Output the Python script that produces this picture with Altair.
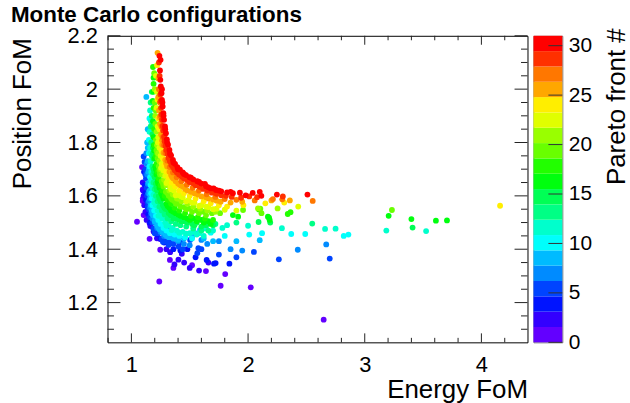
import colorsys
import altair as alt
import pandas as pd

# ---------------- data: (Energy FoM, Position FoM) per Pareto front ----------------
front_0 = [(1.048, 1.503), (1.239, 1.279), (1.639, 1.318), (1.804, 1.307), (1.765, 1.263),
           (2.023, 1.257), (2.648, 1.136)]
front_1 = [(1.091, 1.708), (1.097, 1.624), (1.098, 1.590), (1.097, 1.581), (1.105, 1.528),
           (1.156, 1.439), (1.247, 1.398), (1.330, 1.360), (1.360, 1.330), (1.520, 1.340)]
front_2 = [(1.097, 1.650), (1.432, 1.383), (1.452, 1.350), (1.500, 1.330), (1.580, 1.320),
           (1.660, 1.350), (1.300, 1.400)]
front_3 = [(1.100, 1.620), (1.105, 1.600), (1.110, 1.565), (1.120, 1.540), (1.130, 1.510),
           (1.156, 1.497), (1.162, 1.487), (1.190, 1.466), (1.219, 1.441), (1.247, 1.438),
           (1.332, 1.389), (1.369, 1.343), (1.403, 1.361)]
front_4 = [(1.108, 1.690), (1.115, 1.640), (1.120, 1.610), (1.125, 1.585), (1.135, 1.560),
           (1.145, 1.530), (1.160, 1.500), (1.190, 1.475), (1.220, 1.455), (1.250, 1.440),
           (1.280, 1.425), (1.360, 1.400), (1.420, 1.395), (1.480, 1.400), (1.550, 1.370),
           (1.645, 1.360), (1.708, 1.346), (1.722, 1.348), (1.840, 1.346)]
front_5 = [(1.120, 1.680), (1.142, 1.560), (1.190, 1.478), (1.270, 1.428), (1.750, 1.380),
           (1.900, 1.370), (2.050, 1.390), (2.264, 1.362), (2.700, 1.365), (1.200, 1.460),
           (1.330, 1.430), (1.420, 1.425)]
front_6 = [(1.105, 1.748), (1.113, 1.727), (1.120, 1.700), (1.125, 1.665), (1.130, 1.630),
           (1.135, 1.600), (1.140, 1.575), (1.150, 1.550), (1.160, 1.520), (1.180, 1.500),
           (1.200, 1.470), (1.230, 1.460), (1.260, 1.440), (1.300, 1.430), (1.318, 1.416),
           (1.360, 1.420), (1.403, 1.410), (1.440, 1.400), (1.503, 1.435), (1.565, 1.385),
           (1.574, 1.404), (1.600, 1.400)]
front_7 = [(1.128, 1.760), (1.130, 1.720), (1.135, 1.680), (1.140, 1.645), (1.145, 1.610),
           (1.150, 1.580), (1.160, 1.555), (1.170, 1.535), (1.180, 1.515), (1.200, 1.500),
           (1.220, 1.480), (1.250, 1.465), (1.280, 1.450), (1.318, 1.472), (1.347, 1.460),
           (1.400, 1.430), (1.450, 1.420), (1.500, 1.415), (1.600, 1.435), (1.650, 1.420),
           (1.750, 1.430), (1.850, 1.400), (1.950, 1.395), (2.426, 1.398), (2.670, 1.418)]
front_8 = [(1.135, 1.800), (1.150, 1.700), (1.158, 1.605), (1.182, 1.530), (1.230, 1.482),
           (1.300, 1.452), (1.450, 1.440), (1.620, 1.440), (1.900, 1.430), (1.340, 1.445),
           (1.400, 1.445), (1.520, 1.445)]
front_9 = [(1.128, 1.971), (1.140, 1.850), (1.140, 1.780), (1.140, 1.730), (1.145, 1.690),
           (1.150, 1.650), (1.155, 1.620), (1.160, 1.590), (1.165, 1.565), (1.175, 1.545),
           (1.190, 1.525), (1.200, 1.505), (1.220, 1.490), (1.240, 1.475), (1.265, 1.465),
           (1.290, 1.455), (1.320, 1.445), (1.360, 1.440), (1.400, 1.435), (1.546, 1.460),
           (1.588, 1.472), (1.700, 1.430), (2.100, 1.434)]
front_10 = [(1.155, 1.890), (1.150, 1.810), (1.150, 1.760), (1.155, 1.710), (1.160, 1.670),
            (1.165, 1.640), (1.170, 1.610), (1.175, 1.590), (1.180, 1.565), (1.195, 1.545),
            (1.210, 1.525), (1.230, 1.510), (1.250, 1.495), (1.275, 1.480), (1.300, 1.470),
            (1.330, 1.460), (1.370, 1.455), (1.410, 1.450), (1.460, 1.445), (1.520, 1.440),
            (1.800, 1.450), (2.010, 1.455), (2.120, 1.460), (2.370, 1.457), (2.490, 1.457),
            (2.820, 1.450), (2.860, 1.455), (1.680, 1.462)]
front_11 = [(1.168, 1.880), (1.162, 1.760), (1.176, 1.650), (1.196, 1.575), (1.232, 1.525),
            (1.300, 1.488), (1.410, 1.462), (1.640, 1.478), (1.820, 1.490), (2.000, 1.488),
            (1.345, 1.472), (1.470, 1.458), (1.530, 1.465), (1.580, 1.460)]
front_12 = [(1.160, 1.920), (1.155, 1.840), (1.160, 1.780), (1.165, 1.730), (1.170, 1.690),
            (1.170, 1.660), (1.180, 1.630), (1.190, 1.605), (1.200, 1.585), (1.210, 1.565),
            (1.225, 1.545), (1.245, 1.530), (1.265, 1.515), (1.290, 1.500), (1.320, 1.490),
            (1.355, 1.480), (1.390, 1.470), (1.440, 1.465), (1.500, 1.460), (1.560, 1.455),
            (1.620, 1.450), (1.700, 1.470), (1.780, 1.480), (2.290, 1.479), (2.660, 1.476),
            (2.750, 1.477), (3.185, 1.470), (3.526, 1.468)]
front_13 = [(1.165, 1.950), (1.165, 1.860), (1.170, 1.800), (1.175, 1.750), (1.180, 1.710),
            (1.185, 1.680), (1.190, 1.650), (1.200, 1.625), (1.210, 1.600), (1.225, 1.580),
            (1.240, 1.560), (1.260, 1.545), (1.285, 1.530), (1.310, 1.515), (1.340, 1.505),
            (1.380, 1.495), (1.420, 1.490), (1.470, 1.485), (1.530, 1.478), (1.600, 1.470),
            (1.660, 1.470), (1.720, 1.495), (1.900, 1.500), (2.550, 1.496)]
front_14 = [(1.178, 1.860), (1.186, 1.760), (1.196, 1.690), (1.214, 1.632), (1.240, 1.590),
            (1.282, 1.555), (1.335, 1.528), (1.410, 1.510), (1.520, 1.495), (1.700, 1.490),
            (2.090, 1.502), (1.360, 1.515), (1.450, 1.505), (1.560, 1.500), (1.640, 1.490)]
front_15 = [(1.175, 1.990), (1.175, 1.900), (1.180, 1.830), (1.185, 1.780), (1.190, 1.740),
            (1.190, 1.700), (1.200, 1.670), (1.210, 1.645), (1.220, 1.620), (1.235, 1.600),
            (1.250, 1.580), (1.270, 1.565), (1.295, 1.550), (1.320, 1.535), (1.350, 1.525),
            (1.390, 1.515), (1.430, 1.505), (1.480, 1.500), (1.540, 1.490), (1.600, 1.485),
            (2.190, 1.500), (3.410, 1.481)]
front_16 = [(1.188, 1.990), (1.192, 1.790), (1.210, 1.700), (1.230, 1.645), (1.265, 1.600),
            (1.310, 1.562), (1.380, 1.535), (1.480, 1.515), (1.600, 1.510), (1.870, 1.528),
            (1.915, 1.522), (2.170, 1.522), (1.340, 1.545), (1.420, 1.525), (1.530, 1.515),
            (1.660, 1.505)]
front_17 = [(1.190, 2.043), (1.183, 1.956), (1.185, 1.880), (1.190, 1.820), (1.195, 1.770),
            (1.200, 1.740), (1.205, 1.710), (1.215, 1.680), (1.225, 1.655), (1.240, 1.630),
            (1.255, 1.610), (1.275, 1.590), (1.300, 1.570), (1.325, 1.555), (1.360, 1.540),
            (1.400, 1.530), (1.450, 1.520), (1.500, 1.510), (1.560, 1.505), (1.620, 1.500),
            (1.680, 1.495), (2.180, 1.518), (2.185, 1.510), (3.205, 1.525), (3.400, 1.513),
            (3.610, 1.507), (3.705, 1.508)]
front_18 = [(1.185, 2.083), (1.190, 2.020), (1.190, 1.930), (1.195, 1.850), (1.200, 1.790),
            (1.210, 1.750), (1.215, 1.720), (1.225, 1.690), (1.235, 1.665), (1.250, 1.640),
            (1.265, 1.620), (1.285, 1.600), (1.310, 1.585), (1.340, 1.570), (1.370, 1.555),
            (1.410, 1.545), (1.460, 1.535), (1.510, 1.525), (1.570, 1.520), (1.630, 1.515),
            (1.700, 1.510), (2.340, 1.532), (2.364, 1.539), (2.094, 1.549)]
front_19 = [(1.208, 1.920), (1.222, 1.760), (1.240, 1.695), (1.270, 1.645), (1.310, 1.610),
            (1.370, 1.580), (1.450, 1.558), (1.560, 1.545), (1.760, 1.535), (1.957, 1.547),
            (1.340, 1.590), (1.410, 1.570), (1.500, 1.552), (1.620, 1.540), (1.690, 1.535)]
front_20 = [(1.195, 2.060), (1.200, 1.950), (1.205, 1.870), (1.210, 1.810), (1.215, 1.770),
            (1.225, 1.740), (1.235, 1.710), (1.245, 1.680), (1.260, 1.655), (1.275, 1.635),
            (1.295, 1.615), (1.320, 1.600), (1.350, 1.585), (1.385, 1.570), (1.420, 1.560),
            (1.470, 1.550), (1.520, 1.540), (1.580, 1.535), (1.640, 1.528), (2.105, 1.552),
            (2.115, 1.535), (3.233, 1.547)]
front_21 = [(1.200, 2.000), (1.205, 1.900), (1.215, 1.840), (1.220, 1.790), (1.230, 1.760),
            (1.240, 1.730), (1.250, 1.700), (1.265, 1.680), (1.280, 1.660), (1.300, 1.640),
            (1.325, 1.620), (1.355, 1.605), (1.390, 1.590), (1.430, 1.580), (1.480, 1.570),
            (1.530, 1.560), (1.590, 1.552), (1.650, 1.545), (1.720, 1.540), (2.085, 1.553),
            (2.253, 1.553)]
front_22 = [(1.218, 1.990), (1.228, 1.800), (1.255, 1.705), (1.300, 1.648), (1.380, 1.602),
            (1.470, 1.580), (1.580, 1.562), (1.700, 1.550), (1.900, 1.545), (1.340, 1.625),
            (1.420, 1.600), (1.520, 1.575), (1.640, 1.560)]
front_23 = [(1.210, 2.050), (1.215, 1.930), (1.225, 1.860), (1.230, 1.820), (1.240, 1.780),
            (1.250, 1.750), (1.260, 1.720), (1.275, 1.695), (1.290, 1.675), (1.310, 1.655),
            (1.335, 1.635), (1.365, 1.620), (1.400, 1.605), (1.440, 1.595), (1.490, 1.585),
            (1.540, 1.575), (1.600, 1.565), (1.660, 1.558), (1.730, 1.552), (1.800, 1.548),
            (2.430, 1.560)]
front_24 = [(1.220, 2.090), (1.224, 1.960), (1.230, 1.890), (1.240, 1.850), (1.250, 1.800),
            (1.258, 1.770), (1.270, 1.740), (1.284, 1.715), (1.300, 1.690), (1.320, 1.670),
            (1.345, 1.650), (1.375, 1.635), (1.410, 1.620), (1.450, 1.610), (1.500, 1.600),
            (1.550, 1.590), (1.620, 1.580), (1.680, 1.572), (1.750, 1.565), (1.820, 1.560),
            (2.148, 1.572), (2.310, 1.575), (4.160, 1.563), (1.960, 1.565)]
front_25 = [(1.232, 2.040), (1.242, 1.895), (1.262, 1.808), (1.298, 1.722), (1.340, 1.678),
            (1.400, 1.646), (1.480, 1.620), (1.600, 1.598), (1.730, 1.582), (1.950, 1.578),
            (1.360, 1.665), (1.440, 1.635), (1.540, 1.610), (1.660, 1.590)]
front_26 = [(1.224, 2.136), (1.230, 1.970), (1.236, 1.920), (1.245, 1.870), (1.254, 1.830),
            (1.264, 1.792), (1.275, 1.762), (1.290, 1.735), (1.306, 1.710), (1.326, 1.690),
            (1.350, 1.670), (1.380, 1.655), (1.418, 1.640), (1.460, 1.626), (1.510, 1.615),
            (1.570, 1.605), (1.640, 1.595), (1.700, 1.586), (1.765, 1.578), (1.850, 1.575),
            (2.200, 1.583), (2.358, 1.583)]
front_27 = [(1.236, 2.000), (1.244, 1.950), (1.250, 1.900), (1.258, 1.860), (1.268, 1.820),
            (1.278, 1.790), (1.292, 1.760), (1.308, 1.732), (1.328, 1.708), (1.356, 1.688),
            (1.388, 1.670), (1.428, 1.655), (1.475, 1.642), (1.525, 1.630), (1.578, 1.620),
            (1.645, 1.606), (1.720, 1.596), (1.800, 1.588), (1.900, 1.585), (2.057, 1.583),
            (2.213, 1.588), (2.293, 1.587), (2.554, 1.581)]
front_28 = [(1.250, 1.955), (1.258, 1.905), (1.268, 1.862), (1.280, 1.822), (1.292, 1.788),
            (1.310, 1.757), (1.330, 1.730), (1.358, 1.706), (1.390, 1.688), (1.430, 1.673),
            (1.475, 1.660), (1.525, 1.648), (1.585, 1.634), (1.650, 1.620), (1.730, 1.608),
            (1.810, 1.600), (2.010, 1.598)]
front_29 = [(1.236, 2.100), (1.242, 2.050), (1.248, 1.980), (1.254, 1.930), (1.262, 1.885),
            (1.272, 1.845), (1.284, 1.805), (1.298, 1.772), (1.318, 1.742), (1.342, 1.716),
            (1.372, 1.696), (1.408, 1.680), (1.450, 1.666), (1.498, 1.652), (1.550, 1.640),
            (1.615, 1.626), (1.690, 1.612), (1.770, 1.602), (1.860, 1.596), (1.940, 1.593),
            (2.077, 1.595), (2.298, 1.598)]
front_30 = [(1.262, 2.000), (1.266, 1.950), (1.276, 1.900), (1.290, 1.850), (1.306, 1.800),
            (1.330, 1.758), (1.360, 1.725), (1.400, 1.700), (1.450, 1.682), (1.510, 1.668),
            (1.580, 1.652), (1.660, 1.632), (1.750, 1.620), (1.850, 1.615), (1.980, 1.602),
            (2.114, 1.600), (1.630, 1.645), (1.705, 1.628)]
front_31 = [(1.240, 2.125), (1.250, 2.110), (1.245, 2.070), (1.248, 2.035), (1.252, 2.010),
            (1.258, 1.985), (1.262, 1.960), (1.268, 1.935), (1.274, 1.910), (1.280, 1.885),
            (1.288, 1.860), (1.296, 1.835), (1.304, 1.812), (1.314, 1.792), (1.326, 1.772),
            (1.340, 1.752), (1.356, 1.735), (1.374, 1.720), (1.394, 1.708), (1.416, 1.698),
            (1.440, 1.688), (1.468, 1.678), (1.498, 1.670), (1.530, 1.662), (1.565, 1.655),
            (1.600, 1.646), (1.640, 1.636), (1.680, 1.628), (1.725, 1.622), (1.770, 1.617),
            (1.820, 1.613), (1.870, 1.610), (1.930, 1.612), (2.040, 1.611), (2.100, 1.615),
            (2.247, 1.605), (2.509, 1.605)]

fronts = [front_0, front_1, front_2, front_3, front_4, front_5, front_6, front_7,
          front_8, front_9, front_10, front_11, front_12, front_13, front_14, front_15,
          front_16, front_17, front_18, front_19, front_20, front_21, front_22, front_23,
          front_24, front_25, front_26, front_27, front_28, front_29, front_30, front_31]

x_major = [1, 2, 3, 4]
x_minor = [0.8, 1.2, 1.4, 1.6, 1.8, 2.2, 2.4, 2.6, 2.8, 3.2, 3.4, 3.6, 3.8, 4.2]
y_major = [1.2, 1.4, 1.6, 1.8, 2.0, 2.2]
y_minor = [1.1, 1.15, 1.25, 1.3, 1.35, 1.45, 1.5, 1.55, 1.65, 1.7, 1.75, 1.85, 1.9,
           1.95, 2.05, 2.1, 2.15]
z_ticks = [0, 5, 10, 15, 20, 25, 30]

# ---------------- tables ----------------
rows = []
for f, pts in enumerate(fronts):
    for ex, py in pts:
        rows.append({"energy": ex, "position": py, "front": f, "ord": len(rows)})
df = pd.DataFrame(rows)

# ROOT "pretty" palette (violet -> red), 20 contour levels
Z_MIN, Z_MAX, N_LEV = 0, 31, 20
palette = []
for k in range(N_LEV):
    idx = int((k + 0.99) * 50 / N_LEV)
    if idx >= 49:
        palette.append("#ff0000")
    else:
        hue = 280 - (idx + 1) * 280 / 50
        r, g, b = colorsys.hls_to_rgb(hue / 360, 0.5, 1.0)
        palette.append("#%02x%02x%02x" % (round(r * 255), round(g * 255), round(b * 255)))
color_scale = alt.Scale(type="quantize", domain=[Z_MIN, Z_MAX], range=palette, nice=False)

step = (Z_MAX - Z_MIN) / N_LEV
bands = pd.DataFrame({
    "lo": [Z_MIN + k * step for k in range(N_LEV)],
    "hi": [Z_MIN + (k + 1) * step for k in range(N_LEV)],
    "mid": [Z_MIN + (k + 0.5) * step for k in range(N_LEV)],
})

FONT = "Liberation Sans"
W, H = 422, 308
TICK = "#222222"
x_scale = alt.Scale(domain=[0.795, 4.395], nice=False, zero=False)
y_scale = alt.Scale(domain=[1.051, 2.2], nice=False, zero=False)
z_scale = alt.Scale(domain=[Z_MIN, Z_MAX], nice=False, zero=False)

x_axis = alt.Axis(values=x_major, format="~g", ticks=False, tickSize=0, domain=False,
                  grid=False, labelFont=FONT, labelFontSize=22, labelColor="black",
                  labelBaseline="alphabetic", labelPadding=29, labelFlush=False,
                  title="Energy FoM", titleFont=FONT, titleFontSize=26,
                  titleFontWeight="normal", titleColor="black", titleAngle=0,
                  titleAlign="right", titleBaseline="alphabetic", titleX=W, titleY=55)
y_axis = alt.Axis(values=y_major, format="~g", ticks=False, tickSize=0, domain=False,
                  grid=False, labelFont=FONT, labelFontSize=22, labelColor="black",
                  labelBaseline="middle", labelPadding=10, labelFlush=False,
                  title="Position FoM", titleFont=FONT, titleFontSize=26,
                  titleFontWeight="normal", titleColor="black", titleAngle=270,
                  titleAlign="right", titleBaseline="alphabetic", titleX=-77, titleY=2)
z_axis = alt.Axis(values=z_ticks, orient="right", ticks=False, tickSize=0, domain=False,
                  grid=False, labelFont=FONT, labelFontSize=21, labelColor="black",
                  labelBaseline="middle", labelPadding=6, labelFlush=False,
                  title="Pareto front #", titleFont=FONT, titleFontSize=26,
                  titleFontWeight="normal", titleColor="black", titleAngle=270,
                  titleAlign="right", titleBaseline="alphabetic", titleX=62, titleY=-8)

points = alt.Chart(df).mark_circle(size=34, opacity=1).encode(
    x=alt.X("energy:Q", scale=x_scale, axis=x_axis, title="Energy FoM"),
    y=alt.Y("position:Q", scale=y_scale, axis=y_axis, title="Position FoM"),
    color=alt.Color("front:Q", scale=color_scale, legend=None),
    order=alt.Order("ord:Q"),
)


def xticks(vals, y0, y1):
    return alt.Chart(pd.DataFrame({"v": vals})).mark_rule(color=TICK, strokeWidth=1).encode(
        x=alt.X("v:Q", scale=x_scale, axis=x_axis, title="Energy FoM"),
        y=alt.value(y0), y2=alt.value(y1))


def yticks(vals, x0, x1):
    return alt.Chart(pd.DataFrame({"v": vals})).mark_rule(color=TICK, strokeWidth=1).encode(
        y=alt.Y("v:Q", scale=y_scale, axis=y_axis, title="Position FoM"),
        x=alt.value(x0), x2=alt.value(x1))


main = alt.layer(
    points,
    xticks(x_major, H, H - 9), xticks(x_minor, H, H - 4.5),
    xticks(x_major, 0, 9), xticks(x_minor, 0, 4.5),
    yticks(y_major, 0, 13), yticks(y_minor, 0, 6.5),
    yticks(y_major, W, W - 13), yticks(y_minor, W, W - 6.5),
).properties(width=W, height=H, view=alt.ViewBackground(stroke="black", strokeWidth=1))

bar = alt.Chart(bands).mark_rect().encode(
    y=alt.Y("lo:Q", scale=z_scale, axis=z_axis, title="Pareto front #"),
    y2="hi:Q",
    x=alt.value(0), x2=alt.value(29),
    color=alt.Color("mid:Q", scale=color_scale, legend=None),
)
bar_ticks = alt.Chart(pd.DataFrame({"v": z_ticks})).mark_rule(color="#333333", strokeWidth=1).encode(
    y=alt.Y("v:Q", scale=z_scale, axis=z_axis, title="Pareto front #"),
    x=alt.value(15), x2=alt.value(29))

colorbar = alt.layer(bar, bar_ticks).properties(
    width=29, height=H, view=alt.ViewBackground(stroke="#777777", strokeWidth=1))

chart = alt.hconcat(main, colorbar, spacing=4).properties(
    title=alt.TitleParams("Monte Carlo configurations", anchor="start", frame="group",
                          font=FONT, fontSize=22.5, fontWeight="bold", color="black",
                          offset=0, dx=-97, dy=2),
    autosize=alt.AutoSizeParams(type="pad"),
    padding={"left": 9, "top": 3, "right": 0, "bottom": 0},
    background="white",
)

chart.save("out.html", embed_options={"renderer": "svg", "actions": False})
